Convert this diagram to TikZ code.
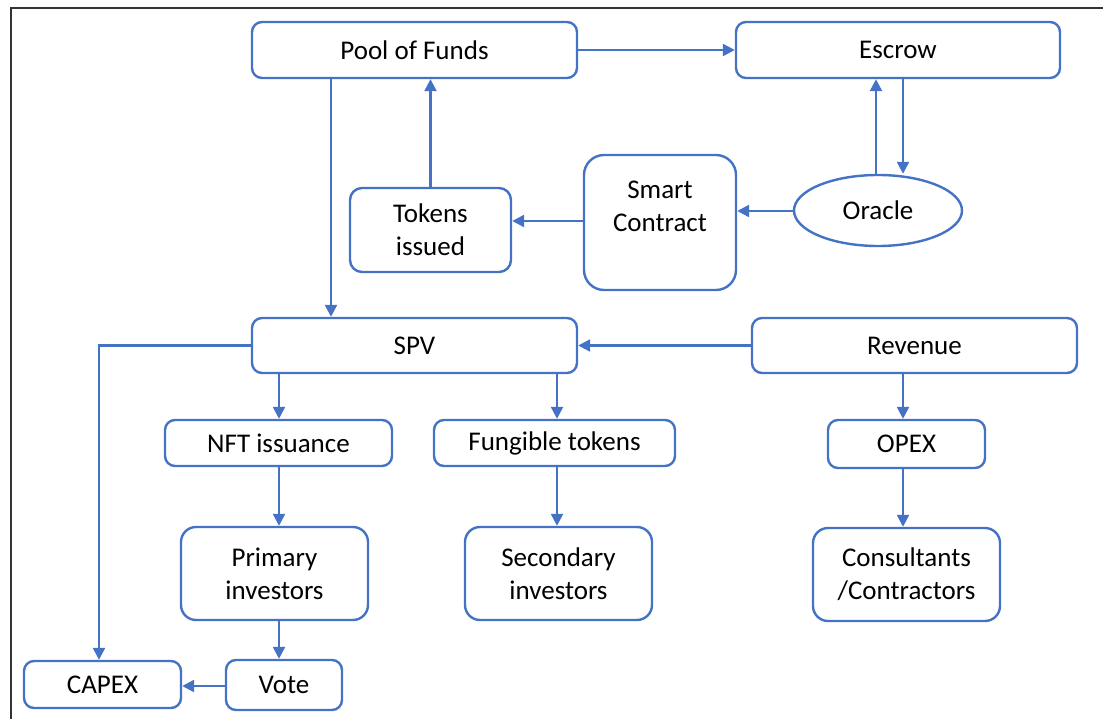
\documentclass[tikz,border=0pt]{standalone}
\usepackage{fontspec}
\setmainfont{Carlito}
\usetikzlibrary{arrows.meta,shapes.geometric}
\definecolor{flowblue}{HTML}{4472C4}
\definecolor{framegray}{HTML}{333333}
\tikzset{
  box/.style={draw=flowblue, line width=2.4pt, rounded corners=10pt, fill=white,
    align=center, inner sep=0pt, font=\fontsize{27}{33}\selectfont},
  oval/.style={ellipse, draw=flowblue, line width=2.4pt, fill=white,
    inner sep=0pt, font=\fontsize{27}{33}\selectfont},
  arr/.style={draw=flowblue, line width=2.4pt, -{Triangle[length=12pt,width=12pt]}},
}
\begin{document}
\begin{tikzpicture}[x=1pt,y=-1pt]
  \useasboundingbox (0,0) rectangle (1103,719);
  % outer frame (top and left edges)
  \draw[framegray, line width=2pt] (11,719) -- (11,8) -- (1103,8);

  % nodes
  \node[box, minimum width=325, minimum height=56] (pool) at (414.5,50) {Pool of Funds};
  \node[box, minimum width=324, minimum height=56] (escrow) at (898,50) {Escrow};
  \node[box, minimum width=161, minimum height=84, rounded corners=12pt] (tokens) at (430.5,230) {Tokens\\issued};
  \node[box, minimum width=152, minimum height=135, rounded corners=20pt] (smart) at (660,222.5) {Smart\\Contract\\\mbox{}};
  \node[oval, minimum width=168, minimum height=71] (oracle) at (878,210.5) {Oracle};
  \node[box, minimum width=325, minimum height=55] (spv) at (414.5,345.5) {SPV};
  \node[box, minimum width=325, minimum height=55] (revenue) at (914.5,345.5) {Revenue};
  \node[box, minimum width=227, minimum height=46] (nft) at (278.5,443) {NFT issuance};
  \node[box, minimum width=241, minimum height=46] (fung) at (554.5,443) {Fungible tokens};
  \node[box, minimum width=157, minimum height=48] (opex) at (906.5,444) {OPEX};
  \node[box, minimum width=187, minimum height=93, rounded corners=15pt] (primary) at (274.5,573.5) {Primary\\investors};
  \node[box, minimum width=187, minimum height=93, rounded corners=15pt] (secondary) at (558.5,573.5) {Secondary\\investors};
  \node[box, minimum width=187, minimum height=93, rounded corners=15pt] (consult) at (906.5,574.5) {Consultants\\/Contractors};
  \node[box, minimum width=157, minimum height=47] (capex) at (102.5,684.5) {CAPEX};
  \node[box, minimum width=116, minimum height=50] (vote) at (284,685) {Vote};

  % connectors
  \draw[arr] (pool.east) -- (escrow.west);
  \draw[arr] (pool.south -| 331,0) -- (spv.north -| 331,0);
  \draw[arr] (tokens.north) -- (pool.south -| tokens.north);
  \draw[arr] (smart.west |- 0,221) -- (tokens.east |- 0,221);
  \draw[arr] (oracle.west |- 0,211) -- (smart.east |- 0,211);
  \draw[arr] (oracle.north -| 876,0) -- (escrow.south -| 876,0);
  \draw[arr] (escrow.south -| 903,0) -- (oracle.north -| 903,0);
  \draw[arr] (revenue.west) -- (spv.east);
  \draw[arr] (spv.south -| 279,0) -- (nft.north -| 279,0);
  \draw[arr] (spv.south -| 557,0) -- (fung.north -| 557,0);
  \draw[arr] (revenue.south -| 903,0) -- (opex.north -| 903,0);
  \draw[arr] (nft.south -| 279,0) -- (primary.north -| 279,0);
  \draw[arr] (fung.south -| 557,0) -- (secondary.north -| 557,0);
  \draw[arr] (opex.south -| 903,0) -- (consult.north -| 903,0);
  \draw[arr] (primary.south -| 279,0) -- (vote.north -| 279,0);
  \draw[arr] (vote.west |- 0,686) -- (capex.east |- 0,686);
  \draw[arr] (spv.west) -| (capex.north -| 99,0);
\end{tikzpicture}
\end{document}
